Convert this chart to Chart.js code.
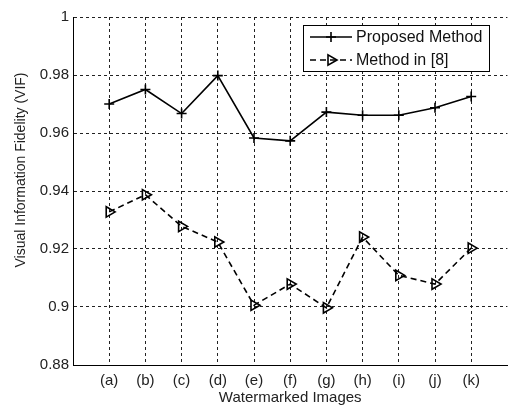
<!DOCTYPE html>
<html>
<head>
<meta charset="utf-8">
<script src="https://cdn.jsdelivr.net/npm/chart.js@4/dist/chart.umd.min.js"></script>
<style>
  html,body{margin:0;padding:0;background:#fff;}
  #wrap{width:515px;height:407px;}
</style>
</head>
<body>
<div id="wrap"><canvas id="vif" width="515" height="407"></canvas></div>
<script>
/* ---------- data ---------- */
const categories = ['(a)','(b)','(c)','(d)','(e)','(f)','(g)','(h)','(i)','(j)','(k)'];
const proposed   = [0.970,0.975,0.9667,0.9798,0.9583,0.9573,0.9672,0.9661,0.9661,0.9687,0.9726];
const method8    = [0.9328,0.9387,0.9278,0.9224,0.9006,0.9079,0.8997,0.9241,0.9109,0.9079,0.9203];
const seriesNames = ['Proposed Method','Method in [8]'];
const yTicks = [0.88,0.9,0.92,0.94,0.96,0.98,1];
const xTitle = 'Watermarked Images';
const yTitle = 'Visual Information Fidelity (VIF)';

const FONT = '"Liberation Sans", Arial, sans-serif';
const TXT = '#222';

function byId(id){ return document.getElementById(id); }
function toPts(arr){ return arr.map((v,i)=>({x:i+1, y:v})); }

/* legend box + axis titles, drawn on top */
const extras = {
  id:'extras',
  afterDraw(chart){
    const ctx = chart.ctx;
    const area = chart.chartArea;
    ctx.save();
    // axis titles
    ctx.fillStyle = TXT;
    ctx.textAlign = 'center';
    ctx.textBaseline = 'middle';
    ctx.font = '15px ' + FONT;
    ctx.fillText(xTitle, (area.left+area.right)/2, 398);
    ctx.translate(21, 170);
    ctx.rotate(-Math.PI/2);
    ctx.font = '14px ' + FONT;
    ctx.fillText(yTitle, 0, 0);
    ctx.restore();

    // legend
    ctx.save();
    const bx = 303.5, by = 25.5, bw = 186, bh = 46;
    ctx.fillStyle = '#fff';
    ctx.fillRect(bx, by, bw, bh);
    ctx.strokeStyle = '#000';
    ctx.lineWidth = 1;
    ctx.strokeRect(bx, by, bw, bh);
    const rows = [37, 60];
    chart.data.datasets.forEach((ds, i)=>{
      const y = rows[i];
      ctx.strokeStyle = ds.borderColor;
      ctx.lineWidth = ds.borderWidth;
      ctx.setLineDash(ds.borderDash || []);
      ctx.beginPath(); ctx.moveTo(310, y); ctx.lineTo(352, y); ctx.stroke();
      ctx.setLineDash([]);
      ctx.fillStyle = 'rgba(255,255,255,0)';
      ctx.strokeStyle = '#000';
      ctx.lineWidth = ds.pointBorderWidth;
      Chart.helpers.drawPoint(ctx, {
        pointStyle: ds.pointStyle, radius: ds.pointRadius, rotation: ds.pointRotation || 0,
        borderWidth: ds.pointBorderWidth
      }, 331, y);
      ctx.fillStyle = '#111';
      ctx.font = '16px ' + FONT;
      ctx.textAlign = 'left';
      ctx.textBaseline = 'middle';
      ctx.fillText(ds.label, 356, y+1);
    });
    ctx.restore();
  }
};

new Chart(byId('vif'), {
  type:'line',
  data:{
    datasets:[
      {
        label: seriesNames[0], data: toPts(proposed),
        borderColor:'#000', borderWidth:1.6, fill:false, tension:0,
        pointStyle:'cross', pointRadius:5, pointBorderWidth:1.6,
        pointBorderColor:'#000', pointBackgroundColor:'transparent'
      },
      {
        label: seriesNames[1], data: toPts(method8),
        borderColor:'#000', borderWidth:1.6, borderDash:[6,4], fill:false, tension:0,
        pointStyle:'triangle', pointRotation:90, pointRadius:6, pointBorderWidth:1.6,
        pointBorderColor:'#000', pointBackgroundColor:'rgba(255,255,255,0)'
      }
    ]
  },
  options:{
    responsive:false,
    animation:false,
    layout:{padding:{top:17, right:2, left:0, bottom:0}},
    plugins:{legend:{display:false}, tooltip:{enabled:false}},
    scales:{
      x:{
        type:'linear', min:0, max:categories.length+1,
        afterBuildTicks(s){ s.ticks = categories.map((_,i)=>({value:i+1})); },
        afterFit(s){ s.height = 42; },
        ticks:{
          autoSkip:false, padding:7, color:TXT,
          font:{family:FONT, size:15},
          callback:(v)=> categories[v-1] || ''
        },
        grid:{color:'#222', lineWidth:1, drawTicks:false},
        border:{color:'#000', width:1, dash:[3,3]}
      },
      y:{
        min:0.88, max:1,
        afterBuildTicks(s){ s.ticks = yTicks.map(v=>({value:v})); },
        afterFit(s){ s.width = 73; },
        ticks:{
          padding:4, color:TXT,
          font:{family:FONT, size:15},
          callback:(v)=> String(Number(v.toFixed(2)))
        },
        grid:{
          color:(c)=> c.tick && c.tick.value===0.88 ? 'rgba(0,0,0,0)' : '#222',
          lineWidth:1, drawTicks:false
        },
        border:{color:'#000', width:1, dash:[3,3]}
      }
    }
  },
  plugins:[extras]
});
</script>
</body>
</html>
